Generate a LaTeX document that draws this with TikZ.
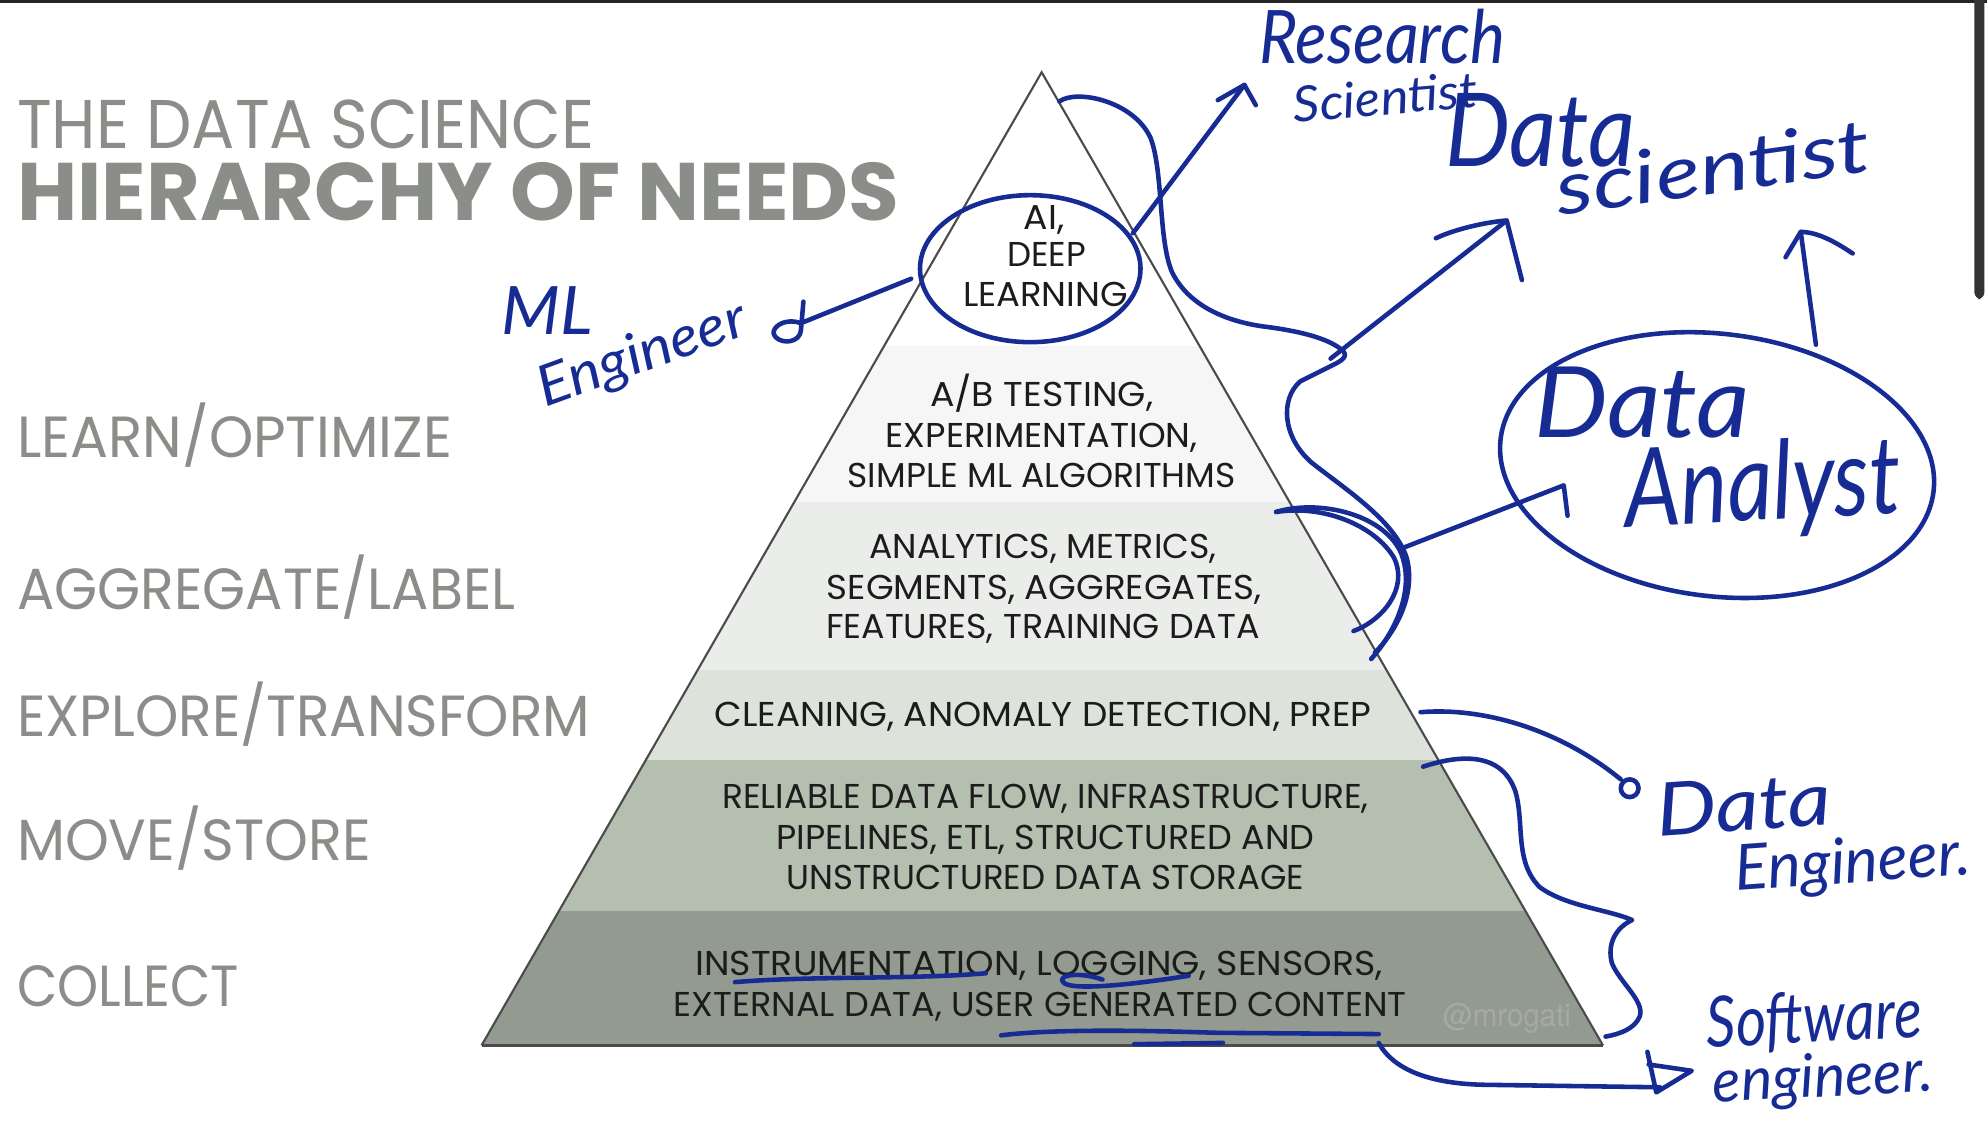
\documentclass[tikz,border=0pt]{standalone}
\usepackage{fontspec}
\usepackage{graphicx}
\usetikzlibrary{shapes.geometric}
\newfontfamily\futr{Poppins}
\newfontfamily\handf{Lato}
\newfontfamily\helv{TeX Gyre Heros}
\newlength\spx
\setlength\spx{0.3605pt}
\newcommand{\fitw}[2]{\resizebox{#1\spx}{\height}{#2}}
\definecolor{hb}{RGB}{22,44,148}
\definecolor{slate}{RGB}{138,141,136}
\definecolor{bandA}{RGB}{255,255,255}
\definecolor{bandB}{RGB}{246,246,246}
\definecolor{bandC}{RGB}{235,237,234}
\definecolor{bandD}{RGB}{221,227,218}
\definecolor{bandE}{RGB}{180,191,175}
\definecolor{bandF}{RGB}{147,154,144}
\definecolor{pyrline}{RGB}{75,75,75}
\definecolor{ptext}{RGB}{28,28,28}
\definecolor{mrog}{RGB}{165,171,162}
\begin{document}
\begin{tikzpicture}[x=0.012672cm,y=-0.012672cm,
  lbl/.style={anchor=base west, inner sep=0pt, text=slate, font=\futr\fontsize{16.5}{18}\selectfont},
  ptx/.style={anchor=base, inner sep=0pt, text=ptext, font=\futr\fontsize{9.8}{11}\selectfont},
  bluepen/.style={draw=hb, line width=1.3pt, line cap=round, line join=round},
  hw/.style={anchor=base west, inner sep=0pt, text=hb},
  hwf/.style={font=\handf\itshape\fontsize{#1}{#1}\selectfont}
]
\useasboundingbox (0,0) rectangle (1568,895);
\fill[white] (0,0) rectangle (1568,895);
\fill[black!85] (0,0) rectangle (1568,2);
\fill[black!80, rounded corners=2pt] (1558,-5) rectangle (1566,236);

% pyramid
\coordinate (apex) at (822,57);
\coordinate (bl) at (380,825);
\coordinate (br) at (1265,825);
\begin{scope}
\clip (apex) -- (bl) -- (br) -- cycle;
\fill[bandA] (300,40) rectangle (1300,273);
\fill[bandB] (300,273) rectangle (1300,396);
\fill[bandC] (300,396) rectangle (1300,529);
\fill[bandD] (300,529) rectangle (1300,600);
\fill[bandE] (300,600) rectangle (1300,719);
\fill[bandF] (300,719) rectangle (1300,830);
\end{scope}
\draw[pyrline, line width=0.6pt, line join=miter] (bl) -- (apex) -- (br);
\draw[pyrline, line width=1pt] (bl) -- (br);

% titles
\node[lbl, font=\futr\fontsize{19.6}{22}\selectfont] (t1) at (13,117) {\fitw{455}{THE DATA SCIENCE}};
\node[lbl, font=\futr\bfseries\fontsize{23.2}{26}\selectfont] (t2) at (13,174) {\fitw{696}{HIERARCHY OF NEEDS}};

% left labels
\node[lbl] (l1) at (13,361) {\fitw{343}{LEARN/OPTIMIZE}};
\node[lbl] (l2) at (13,481) {\fitw{393}{AGGREGATE/LABEL}};
\node[lbl] (l3) at (13,581) {\fitw{452}{EXPLORE/TRANSFORM}};
\node[lbl] (l4) at (13,679) {\fitw{279}{MOVE/STORE}};
\node[lbl] (l5) at (13,794) {\fitw{175}{COLLECT}};

% pyramid text
\node[ptx] (p1) at (824,181) {\fitw{32}{AI,}};
\node[ptx] (p2) at (826,210) {\fitw{62}{DEEP}};
\node[ptx] (p3) at (825,242) {\fitw{130}{LEARNING}};
\node[ptx] (p4) at (822,321) {\fitw{176}{A/B TESTING,}};
\node[ptx] (p5) at (822,353) {\fitw{246}{EXPERIMENTATION,}};
\node[ptx] (p6) at (822,385) {\fitw{306}{SIMPLE ML ALGORITHMS}};
\node[ptx] (p7) at (823,441) {\fitw{274}{ANALYTICS, METRICS,}};
\node[ptx] (p8) at (824,473) {\fitw{343}{SEGMENTS, AGGREGATES,}};
\node[ptx] (p9) at (823,504) {\fitw{342}{FEATURES, TRAINING DATA}};
\node[ptx] (p10) at (823,573) {\fitw{518}{CLEANING, ANOMALY DETECTION, PREP}};
\node[ptx] (p11) at (825,638) {\fitw{510}{RELIABLE DATA FLOW, INFRASTRUCTURE,}};
\node[ptx] (p12) at (825,670) {\fitw{424}{PIPELINES, ETL, STRUCTURED AND}};
\node[ptx] (p13) at (825,702) {\fitw{408}{UNSTRUCTURED DATA STORAGE}};
\node[ptx] (p14) at (820,770) {\fitw{542}{INSTRUMENTATION, LOGGING, SENSORS,}};
\node[ptx] (p15) at (821,802) {\fitw{578}{EXTERNAL DATA, USER GENERATED CONTENT}};
\node[anchor=base west, inner sep=0pt, text=mrog, font=\helv\fontsize{9}{10}\selectfont] (wm) at (1138,810) {\fitw{101}{@mrogati}};

% ---- handwritten annotations ----
\node[ellipse, bluepen, inner sep=0pt, minimum width=62.7pt, minimum height=41.8pt] (aic) at (813,212) {};
\node[ellipse, bluepen, inner sep=0pt, minimum width=124pt, minimum height=74.6pt, rotate=-7] (dac) at (1355,367) {};

\node[hw, hwf=21] (rs1) at (993,50) {\fitw{194}{Research}};
\node[hw, hwf=14, rotate=5] (rs2) at (1021,97) {\fitw{146}{Scientist}};
\node[hw, hwf=29] (ds1) at (1140,131) {\fitw{150}{Data}};
\node[hw, hwf=21, rotate=8] (ds2) at (1230,170) {\fitw{250}{scientist}};
\node[hw, hwf=19] (ml1) at (395,264) {\fitw{72}{ML}};
\node[hw, hwf=16, rotate=20] (ml2) at (430,322) {\fitw{172}{Engineer}};
\node[hw, hwf=28] (da1) at (1210,345) {\fitw{170}{Data}};
\node[hw, hwf=31, rotate=3] (da2) at (1283,416) {\fitw{218}{Analyst}};
\node[hw, hwf=21, rotate=4] (de1) at (1308,660) {\fitw{138}{Data}};
\node[hw, hwf=18, rotate=4] (de2) at (1370,703) {\fitw{186}{Engineer.}};
\node[hw, hwf=20, rotate=3] (sw1) at (1347,827) {\fitw{170}{Software}};
\node[hw, hwf=17, rotate=3] (sw2) at (1352,870) {\fitw{174}{engineer.}};

% ML engineer arrow
\coordinate (mlA) at (719,220);
\coordinate (mlB) at (632,255);
\draw[bluepen] (mlA) -- (mlB) .. controls (618,250) and (606,260) .. (612,266) .. controls (618,272) and (631,270) .. (632,261) -- (634,238);

% research scientist arrow
\coordinate (rsA) at (894,184);
\coordinate (rsT) at (982,67);
\draw[bluepen] (rsA) -- (rsT);
\draw[bluepen] (961,79) -- (rsT) -- (991,83);

% brace from apex
\coordinate (bA) at (836,80);
\coordinate (bJ) at (1060,277);
\draw[bluepen] (bA) .. controls (850,70) and (895,80) .. (908,109) .. controls (918,135) and (914,190) .. (925,215) .. controls (940,245) and (975,255) .. (1000,258) .. controls (1030,262) and (1050,268) .. (bJ) .. controls (1064,282) and (1058,285) .. (1050,289) -- (1026,301) .. controls (1010,315) and (1012,345) .. (1035,365) .. controls (1060,385) and (1100,410) .. (1110,440) .. controls (1118,470) and (1100,500) .. (1085,515);
\draw[bluepen] (1007,404) .. controls (1040,394) and (1090,405) .. (1105,435) .. controls (1118,465) and (1100,500) .. (1082,520);
\draw[bluepen] (1007,404) .. controls (1045,398) and (1085,415) .. (1100,440) .. controls (1112,465) and (1090,490) .. (1068,498);

% data scientist arrow
\coordinate (dsA) at (1050,283);
\coordinate (dsT) at (1189,174);
\draw[bluepen] (dsA) -- (dsT);
\draw[bluepen] (1133,188) .. controls (1150,180) and (1175,175) .. (dsT) -- (1201,221);

% data analyst arrow
\coordinate (daA) at (1108,432);
\coordinate (daT) at (1234,383);
\draw[bluepen] (daA) -- (daT) -- (1237,407);

% up arrow from analyst
\coordinate (upA) at (1433,272);
\coordinate (upT) at (1421,183);
\draw[bluepen] (upA) -- (upT);
\draw[bluepen] (1409,203) -- (upT) .. controls (1435,183) and (1450,192) .. (1462,200);

% data engineer
\coordinate (deA) at (1121,562);
\coordinate (deL) at (1286,622);
\draw[bluepen] (deA) .. controls (1170,558) and (1230,575) .. (1279,615);
\draw[bluepen] (deL) circle [radius=7];

% software engineer brace
\coordinate (sbA) at (1123,605);
\coordinate (sbE) at (1267,818);
\draw[bluepen] (sbA) .. controls (1150,596) and (1185,592) .. (1196,625) .. controls (1203,650) and (1195,680) .. (1215,700) .. controls (1235,715) and (1270,718) .. (1288,726) .. controls (1275,732) and (1268,745) .. (1272,760) .. controls (1278,775) and (1298,790) .. (1294,802) .. controls (1290,812) and (1278,816) .. (sbE);

% software engineer arrow
\coordinate (swA) at (1088,823);
\coordinate (swT) at (1335,845);
\draw[bluepen] (swA) .. controls (1100,845) and (1130,855) .. (1170,856) -- (1310,858);
\draw[bluepen] (1300,830) -- (1307,862) -- (swT) -- (1301,840);

% underlines
\draw[bluepen] (580,775) .. controls (640,770) and (720,773) .. (778,768);
\draw[bluepen] (870,773) .. controls (850,766) and (832,770) .. (840,776) .. controls (850,782) and (900,776) .. (938,770);
\draw[bluepen] (790,817) .. controls (830,812) and (900,813) .. (960,815) -- (1088,816);
\draw[bluepen] (895,824) -- (965,823);
\end{tikzpicture}
\end{document}
